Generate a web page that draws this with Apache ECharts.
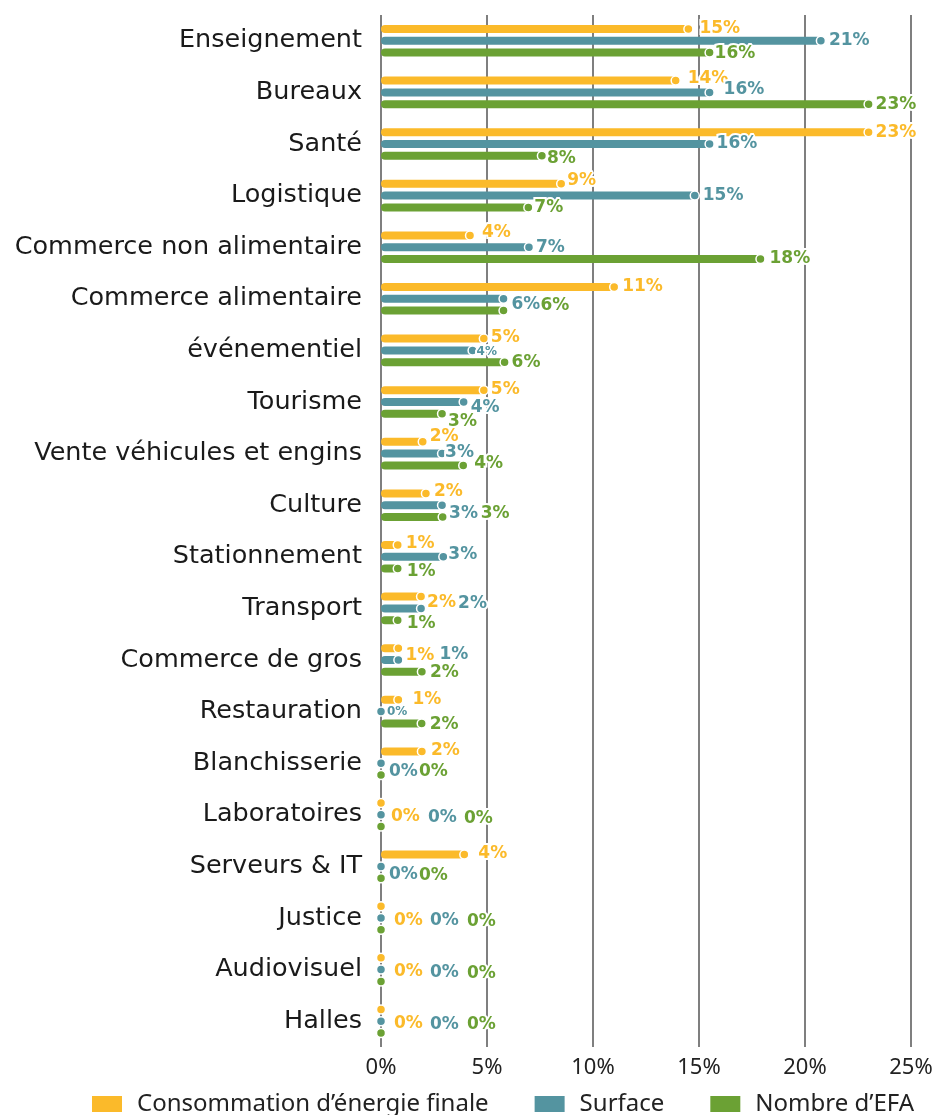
<!DOCTYPE html>
<html>
<head>
<meta charset="utf-8">
<script src="https://cdn.jsdelivr.net/npm/echarts@6/dist/echarts.min.js"></script>
<style>html,body{margin:0;padding:0;background:#fff}#chart{width:946px;height:1115px}</style>
</head>
<body>
<div id="chart"></div>
<script>
const categories = ["Enseignement","Bureaux","Santé","Logistique","Commerce non alimentaire","Commerce alimentaire","événementiel","Tourisme","Vente véhicules et engins","Culture","Stationnement","Transport","Commerce de gros","Restauration","Blanchisserie","Laboratoires","Serveurs & IT","Justice","Audiovisuel","Halles"];
const seriesNames = ["Consommation d’énergie finale","Surface","Nombre d’EFA"];
const energie = [14.5, 13.9, 23.0, 8.5, 4.2, 11.0, 4.85, 4.85, 1.97, 2.12, 0.79, 1.89, 0.82, 0.82, 1.93, 0, 3.93, 0, 0, 0];
const surface = [20.75, 15.5, 15.5, 14.8, 6.98, 5.78, 4.32, 3.9, 2.88, 2.88, 2.94, 1.89, 0.82, 0, 0, 0, 0, 0, 0, 0];
const nombre = [15.5, 23.0, 7.59, 6.95, 17.9, 5.78, 5.83, 2.88, 3.88, 2.91, 0.79, 0.79, 1.93, 1.92, 0, 0, 0, 0, 0, 0];
const xTicks = [0, 5, 10, 15, 20, 25];

// label placement (style only): [dx from bar end, dy from bar centre]
const energieLbl = [[11,0],[12,-2],[7,0],[6,-3],[12,-3],[8,0],[7,-1],[7,-1],[7,-5],[8,-2],[8,-1],[6,6],[7,7],[14,0],[9,-1],[10,14],[14,-1],[13,14],[13,14],[13,14]];
const surfaceLbl = [[8,0],[14,-3],[7,0],[8,0],[7,0],[8,6],[4,1],[7,6],[3,-1],[7,8],[5,-2],[37,-5],[41,-5],[6,0],[8,8],[47,3],[8,8],[49,3],[49,3],[49,3]];
const nombreLbl = [[5,1],[7,0],[5,3],[6,0],[9,0],[37,-5],[7,0],[6,8],[11,-2],[38,-3],[9,3],[9,3],[8,1],[8,1],[38,-3],[83,-8],[38,-3],[86,-8],[86,-8],[86,-8]];
const smallLbl = {1: [6, 13]};

const colors = ["#FBBA2A", "#5494A0", "#6BA134"];

function makeRender(lbl, idx, color) {
  return function (params, api) {
    const i = params.dataIndex;
    const v = api.value(0);
    const cat = api.value(1);
    const p = api.coord([v, cat]);
    const p0 = api.coord([0, cat]);
    const y = p[1] + (idx - 1) * 11.8;
    const children = [];
    if (v > 0) {
      children.push({type: 'rect', shape: {x: p0[0], y: y - 4, width: p[0] - p0[0], height: 8, r: 4}, style: {fill: color}});
    }
    children.push({type: 'circle', shape: {cx: p[0], cy: y, r: 4.5}, style: {fill: color, stroke: '#fff', lineWidth: 1.5}});
    const small = smallLbl[idx] && smallLbl[idx].indexOf(i) >= 0;
    children.push({type: 'text', z2: 10, style: {
      text: Math.round(v) + '%', x: p[0] + lbl[i][0], y: y + lbl[i][1],
      fill: color, stroke: '#fff', lineWidth: 4,
      font: 'bold ' + (small ? 12 : 17) + 'px "DejaVu Sans"',
      align: 'left', verticalAlign: 'middle'
    }});
    return {type: 'group', children: children};
  };
}

const lists = [energie, surface, nombre];
const lbls = [energieLbl, surfaceLbl, nombreLbl];

const chart = echarts.init(document.getElementById('chart'), null, {renderer: 'canvas'});
chart.setOption({
  animation: false,
  backgroundColor: '#fff',
  grid: {left: 381, right: 35, top: 15, bottom: 68, containLabel: false},
  xAxis: {
    type: 'value', min: xTicks[0], max: xTicks[xTicks.length - 1], interval: 5,
    axisLine: {show: false}, axisTick: {show: false},
    splitLine: {show: true, lineStyle: {color: '#555', width: 1.5}},
    axisLabel: {formatter: '{value}%', fontFamily: 'Noto Sans', fontSize: 22, color: '#222', margin: 10}
  },
  yAxis: {
    type: 'category', data: categories, inverse: true,
    axisLine: {show: false}, axisTick: {show: false}, splitLine: {show: false},
    axisLabel: {fontFamily: 'DejaVu Sans', fontSize: 25.5, color: '#1a1a1a', margin: 19}
  },
  legend: {
    data: seriesNames, left: 87, top: 1087, icon: 'rect', itemWidth: 30, itemHeight: 16, itemGap: 46,
    textStyle: {fontFamily: 'Noto Sans', fontSize: 24, color: '#222', padding: [0, 0, 0, 10]}
  },
  series: lists.map((vals, k) => ({
    type: 'custom', name: seriesNames[k],
    itemStyle: {color: colors[k]},
    encode: {x: 0, y: 1},
    data: vals.map((v, i) => [v, i]),
    renderItem: makeRender(lbls[k], k, colors[k])
  }))
});
</script>
</body>
</html>
